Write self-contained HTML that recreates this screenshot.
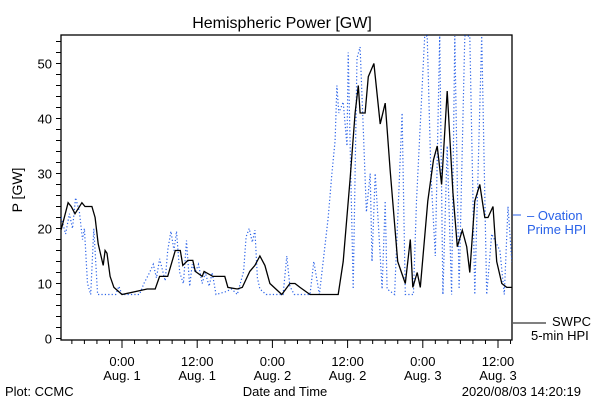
<!DOCTYPE html>
<html><head><meta charset="utf-8"><style>
body{margin:0;background:#fff;}
svg{display:block;font-family:"Liberation Sans",sans-serif;}
</style></head><body>
<svg id="chart" width="600" height="400" xmlns="http://www.w3.org/2000/svg">
<defs><clipPath id="clip"><rect x="61" y="35" width="451" height="305"/></clipPath></defs>
<rect width="600" height="400" fill="#fff"/>
<text x="282" y="28" font-size="16" text-anchor="middle">Hemispheric Power [GW]</text>
<g id="axes"></g>
<g id="series" clip-path="url(#clip)"></g>
<text transform="translate(22,190) rotate(-90)" font-size="14" text-anchor="middle">P [GW]</text>
<text x="5" y="396" font-size="13">Plot: CCMC</text>
<text x="285" y="396" font-size="13" text-anchor="middle">Date and Time</text>
<text x="581" y="396" font-size="13" text-anchor="end">2020/08/03 14:20:19</text>
<g>
<line x1="513" y1="215" x2="521" y2="215" stroke="#2a62e8" stroke-width="1"/>
<text x="527" y="220" font-size="13" fill="#2a62e8">– Ovation</text>
<text x="527" y="234" font-size="13" fill="#2a62e8">Prime HPI</text>
</g>
<g>
<line x1="513" y1="323" x2="546" y2="323" stroke="#000" stroke-width="1"/>
<text x="552" y="326" font-size="13">SWPC</text>
<text x="531" y="340" font-size="13">5-min HPI</text>
</g>
</svg>
<script>
const yTicks=[0,10,20,30,40,50];
const xTickHours=[0,12,24,36,48,60];
const xTickTimes=["0:00","12:00","0:00","12:00","0:00","12:00"];
const xTickDates=["Aug. 1","Aug. 1","Aug. 2","Aug. 2","Aug. 3","Aug. 3"];
const swpcHours=[-9.7,-8.6,-8.1,-7.5,-6.4,-5.9,-4.8,-4.3,-3.8,-3.0,-2.7,-2.4,-1.9,-1.3,0,4.0,5.3,6.0,7.3,8.5,9.3,9.7,10.5,11.3,11.7,12.8,13.1,14.5,16.4,16.9,18.4,19.2,20.4,21.2,22.0,22.8,23.6,25.5,26.8,27.6,28.4,30,34.5,35.3,36.4,37.2,37.7,38,38.8,39.3,40.2,41.2,42,42.8,44,45.2,46,46.4,47.1,47.6,48.8,49.7,50.3,51,51.9,52.8,53.5,54.3,55,55.5,56.3,57.1,57.9,58.4,59.2,59.8,60.6,61.4,62.2];
const swpcValues=[19.8,24.7,24,22.7,24.7,24,24,22,17.2,13.3,16,15.5,11.3,9.3,8,9,9,11.3,11.3,16,16,13.3,14.2,14.2,12.2,11.3,12.2,11.3,11.3,9.3,9,9.3,12.2,13.3,15,13.3,10,8,10,10,9.3,8,8,14,29,41,46,41,41,47.6,50,39,42.8,30.5,14,10,18,9.3,12,9.3,25,32.5,35,28,45,26.6,16.7,19.7,16.7,12,25,28,22,22,24,14,10,9.3,9.3];
const ovHours=[-9.7,-9.0,-8.4,-7.9,-7.4,-6.8,-6.3,-6,-5.5,-5.0,-4.5,-3.9,-3.3,-1,-0.5,0,2.8,3.5,4.4,5,5.5,6,6.9,7.3,7.8,8.3,8.7,9.2,9.8,10.3,10.8,11.2,11.7,12.2,12.8,13.3,13.9,14.4,15,16.5,17.5,18.4,19.4,19.8,20.3,20.8,21.2,21.6,22,23,25.7,26.3,26.8,27.5,30,30.6,31.5,32.9,33.5,34,34.3,34.6,35.3,35.9,36.1,36.9,37.5,38,38.5,39,39.6,39.9,40.4,40.9,41.5,42,42.3,43.5,44.7,45.2,46.5,47,47.6,48.3,48.7,49.3,50.0,50.7,51.2,51.9,52.6,53.1,53.8,54.7,55.5,56.3,57.4,58.2,59,60.3,61.0,61.6,62.2];
const ovValues=[22,19,22.7,20,25.6,23,18,20,10,8,20,8,8,8,9.5,8,8,10,12,13.5,11,14.5,10.5,16,19.5,16,19.5,12,10,17.8,9.5,13.5,12,13.5,10,12,9.5,12,8,8.5,9,8,12.2,18.5,20,17.5,19.7,11,9,8,8,15,9.5,8,8,14,8,22,30,36,46,41,43,35,52,9,51,53,38,23,30,14,30,21,9,25,9,8,41,8,8,25,39,55,55,30,15,55,8,35,8,55,9,55,55,8,55,8,19,16,8,24,14];

const svg=document.getElementById('chart');
const NS='http://www.w3.org/2000/svg';
const X0=61,X1=512,Y0=35,Y1=340;
function xs(h){return 122+h*75.2/12;}
function ys(v){return 338.5-v*5.5;}
function mk(tag,attrs,parent){const e=document.createElementNS(NS,tag);for(const k in attrs)e.setAttribute(k,attrs[k]);parent.appendChild(e);return e;}
const axes=document.getElementById('axes');
const frame=mk('rect',{x:X0,y:Y0,width:X1-X0,height:Y1-Y0,fill:'none',stroke:'#000','stroke-width':1.3},axes);


for(let v=0;v<=54;v+=2){
  const t=mk('line',{x1:X0-5,x2:X0,y1:ys(v),y2:ys(v),stroke:'#000','stroke-width':1},axes);
  
  
}
yTicks.forEach(v=>{
  const t=mk('text',{x:X0-9,y:ys(v)+5,'font-size':13,'text-anchor':'end'},axes);
  t.textContent=v;
  
  
});
for(let h=-8;h<=62;h+=2){
  const major=(h%12===0);
  const t=mk('line',{x1:xs(h),x2:xs(h),y1:Y1,y2:Y1+(major?8:4),stroke:'#000','stroke-width':1},axes);
  
  
}
xTickHours.forEach((h,i)=>{
  const a=mk('text',{x:xs(h),y:366,'font-size':13,'text-anchor':'middle'},axes);
  a.textContent=xTickTimes[i];
  
  
  const b=mk('text',{x:xs(h),y:380,'font-size':13,'text-anchor':'middle'},axes);
  b.textContent=xTickDates[i];
  
  
});
function pathFrom(hs,vs){let d='';hs.forEach((h,i)=>{d+=(i?'L':'M')+xs(h).toFixed(1)+','+ys(vs[i]).toFixed(1);});return d;}
const series=document.getElementById('series');
const ov=mk('path',{d:pathFrom(ovHours,ovValues),fill:'none',stroke:'#2a62e8','stroke-width':1.2,'stroke-dasharray':'1.2 2.2'},series);


const sw=mk('path',{d:pathFrom(swpcHours,swpcValues),fill:'none',stroke:'#000','stroke-width':1.3},series);


</script>
</body></html>
